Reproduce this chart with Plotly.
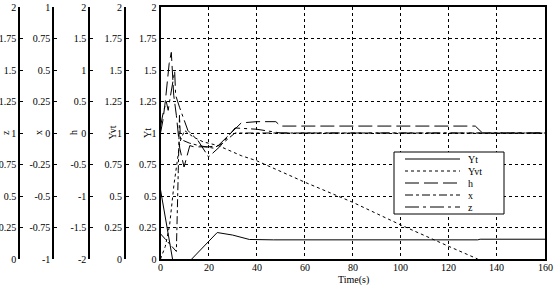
import plotly.graph_objects as go

# ---------------- data ----------------
t_Yt = [0, 5, 8, 13, 23.6, 30, 37, 45, 47, 132, 133, 160]
Yt = [0.55, 0.0, -0.15, 0.0, 0.21, 0.19, 0.155, 0.15, 0.152, 0.152, 0.157, 0.157]

t_Yvt = [0, 2, 3.8, 5.6, 8.1, 10, 13.5, 17.7, 24, 33.6, 40, 60, 80, 100, 120, 132]
Yvt = [0, 0.1, 0.27, 0.59, 0.93, 1.02, 0.97, 0.93, 0.9, 0.82, 0.78, 0.61, 0.45, 0.27, 0.10, 0.0]

t_h = [0, 1, 2, 2.8, 3.6, 4.5, 4.8, 5.5, 6.6, 8, 9.8, 12.2, 14, 20, 24, 33.6, 40, 48, 50, 131, 134, 160]
h = [0, 0.2, 0.5, 0.78, 1.1, 1.28, 1.0, 0.6, 0.28, -0.24, -0.54, -0.2, -0.22, -0.22, -0.2, 0.16, 0.18, 0.18, 0.11, 0.11, 0, 0]

t_x = [0, 3, 6.6, 7.4, 7.9, 8.3, 12, 16, 22, 26, 31, 40, 160]
x = [-0.8, -0.86, -0.94, -0.3, 0.14, -0.05, -0.08, -0.1, -0.12, -0.08, 0, 0, 0]

t_z = [0, 1, 2.4, 3.2, 4.2, 5.9, 6.3, 8, 11.4, 15.6, 20, 24.6, 31, 40, 50, 160]
z = [1.05, 1.15, 1.25, 1.18, 1.3, 1.49, 1.3, 1.2, 1.02, 0.94, 0.81, 0.89, 1.04, 1.03, 1.0, 1.0]

x_ticks = [0, 20, 40, 60, 80, 100, 120, 140, 160]
ticks_02 = [0, 0.25, 0.5, 0.75, 1, 1.25, 1.5, 1.75, 2]
labels_02 = ["0", "0.25", "0.5", "0.75", "1", "1.25", "1.5", "1.75", "2"]
ticks_h = [-2, -1.5, -1, -0.5, 0, 0.5, 1, 1.5, 2]
labels_h = ["-2", "-1.5", "-1", "-0.5", "0", "0.5", "1", "1.5", "2"]
ticks_x = [-1, -0.75, -0.5, -0.25, 0, 0.25, 0.5, 0.75, 1]
labels_x = ["-1", "-0.75", "-0.5", "-0.25", "0", "0.25", "0.5", "0.75", "1"]

names = ["Yt", "Yvt", "h", "x", "z"]
dashes = ["solid", "3px,3px", "14px,5px", "8px,3px,3px,3px", "14px,4px,3px,4px"]

# ---------------- figure ----------------
W, H = 555, 285
ML, MR, MT, MB = 0, 10, 7, 26
PW = W - ML - MR
PH = H - MT - MB
FONT = "Liberation Serif"

def px(p):
    return (p - ML) / PW

def py(p):
    return (H - MB - p) / PH

fig = go.Figure()
series = [(t_Yt, Yt, "y"), (t_Yvt, Yvt, "y2"), (t_h, h, "y3"), (t_x, x, "y4"), (t_z, z, "y5")]
for (tt, vv, ax), nm, ds in zip(series, names, dashes):
    fig.add_trace(go.Scatter(x=tt, y=vv, yaxis=ax, name=nm, mode="lines",
                             line=dict(color="black", width=1, dash=ds),
                             showlegend=False))

tickfont = dict(family=FONT, size=10, color="black")
common_free = dict(overlaying="y", anchor="free", side="left", showgrid=False,
                   zeroline=False, showline=True, linecolor="black", linewidth=2,
                   ticks="inside", ticklen=3, tickcolor="black", tickfont=tickfont)

fig.update_layout(
    width=W, height=H,
    margin=dict(l=ML, r=MR, t=MT, b=MB),
    paper_bgcolor="white", plot_bgcolor="white",
    showlegend=False,
    xaxis=dict(domain=[px(160.5), 1], range=[0, 160], tickvals=x_ticks,
               showticklabels=False,
               showgrid=True, gridcolor="black", griddash="3px,3px", gridwidth=1,
               zeroline=False, showline=True, linecolor="black", linewidth=2,
               mirror=True, ticks=""),
    yaxis=dict(range=[0, 2], tickvals=ticks_02, ticktext=labels_02,
               showgrid=True, gridcolor="black", griddash="3px,3px", gridwidth=1,
               zeroline=False, showline=True, linecolor="black", linewidth=2,
               mirror=True, ticks="", tickfont=tickfont),
    yaxis2=dict(range=[0, 2], tickvals=ticks_02, ticktext=labels_02,
                position=px(125), **common_free),
    yaxis3=dict(range=[-2, 2], tickvals=ticks_h, ticktext=labels_h,
                position=px(89.3), **common_free),
    yaxis4=dict(range=[-1, 1], tickvals=ticks_x, ticktext=labels_x,
                position=px(53.3), **common_free),
    yaxis5=dict(range=[0, 2], tickvals=ticks_02, ticktext=labels_02,
                position=px(19.3), **common_free),
)

# x tick labels placed on the x axis scale
for tv in x_ticks:
    fig.add_annotation(x=tv, xref="x", y=py(267), yref="paper",
                       text=str(tv), showarrow=False, xanchor="center",
                       yanchor="middle", borderpad=0,
                       font=dict(family=FONT, size=10, color="black"))

# axis titles
titles = [("z", 5), ("x", 38), ("h", 73), ("Yvt", 111.5), ("Yt", 147)]
for txt, xp in titles:
    fig.add_annotation(x=px(xp), y=py(133), xref="paper", yref="paper",
                       text=txt, showarrow=False, textangle=-90,
                       font=dict(family=FONT, size=10, color="black"),
                       xanchor="center", yanchor="middle")
fig.add_annotation(x=px(353), y=py(279.5), xref="paper", yref="paper",
                   text="Time(s)", showarrow=False,
                   font=dict(family=FONT, size=10, color="black"),
                   xanchor="center", yanchor="middle", borderpad=0)

# legend box (drawn manually)
fig.add_shape(type="rect", xref="paper", yref="paper",
              x0=px(394), x1=px(504), y0=py(214), y1=py(152),
              line=dict(color="black", width=1), fillcolor="white", layer="above")
rows = [159, 171, 183, 195, 207]
for nm, ds, ry in zip(names, dashes, rows):
    fig.add_shape(type="line", xref="paper", yref="paper",
                  x0=px(405), x1=px(460), y0=py(ry), y1=py(ry),
                  line=dict(color="black", width=1, dash=ds), layer="above")
    fig.add_annotation(x=px(466), y=py(ry), xref="paper", yref="paper",
                       text=nm, showarrow=False, xanchor="left", yanchor="middle",
                       font=dict(family=FONT, size=10, color="black"))

fig.write_html("out.html")
